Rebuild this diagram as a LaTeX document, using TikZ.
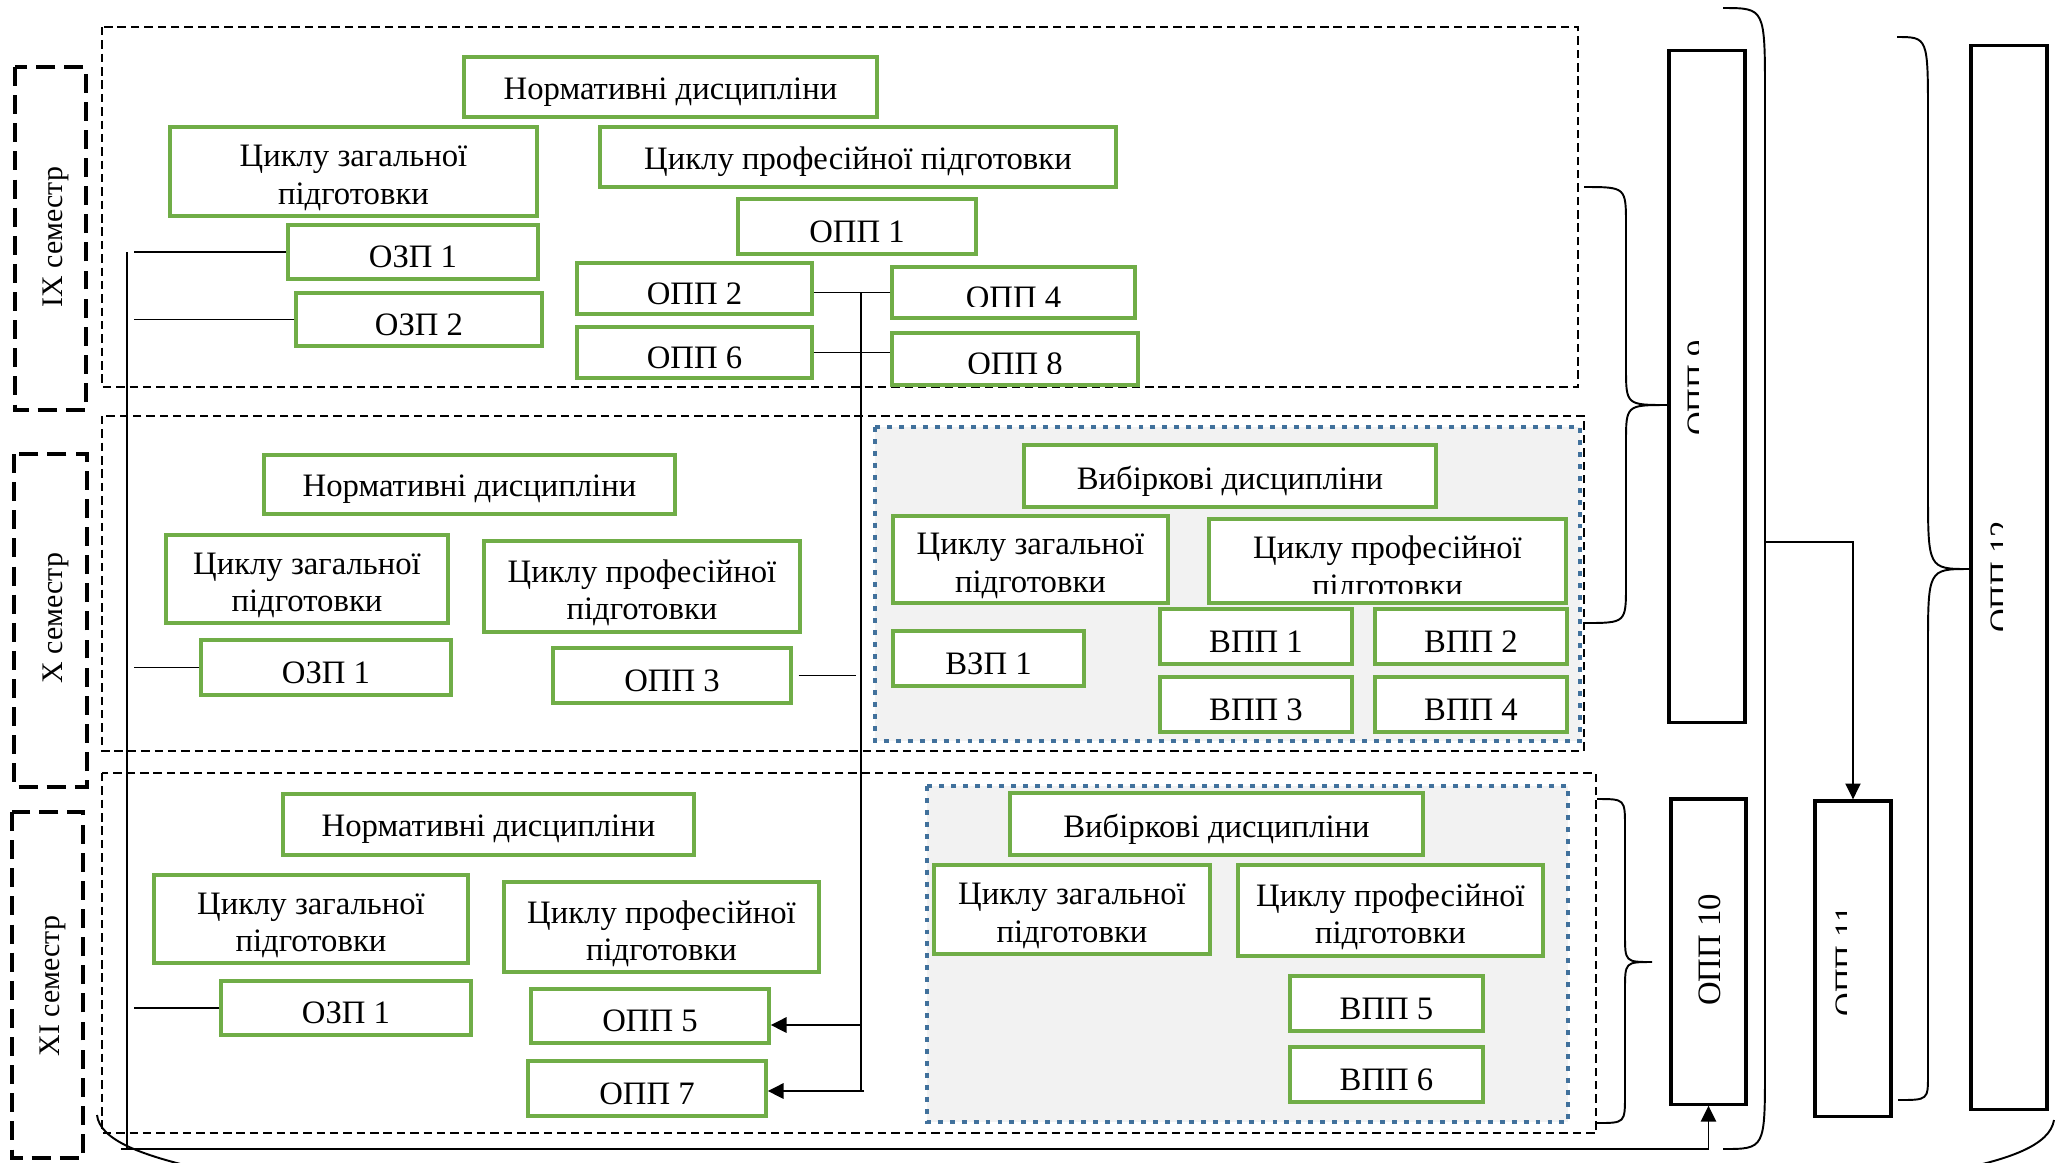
\documentclass[tikz,border=0pt]{standalone}
\usepackage{fontspec}
\setmainfont{Liberation Serif}
\usetikzlibrary{arrows.meta}
\definecolor{gr}{RGB}{112,173,71}
\definecolor{bl}{RGB}{65,113,156}
\definecolor{gy}{RGB}{242,242,242}
\begin{document}
\begin{tikzpicture}[x=0.01cm,y=-0.01cm,
  txt/.style={inner sep=0pt, font=\fontsize{9.3}{10.6}\selectfont, align=center},
  gbox/.style={draw=gr, line width=0.95pt, fill=white, inner sep=0pt},
  lbl/.style={txt, yshift=-0.05cm},
  lbltwo/.style={txt, yshift=-0.065cm},
  gt/.style={label={[lbl]center:#1}},
  gtt/.style={label={[lbltwo]center:#1}},
  bbox/.style={draw=black, line width=0.9pt, inner sep=0pt, fill=white},
  semdash/.style={draw=black, line width=0.7pt, dash pattern=on 2.4pt off 1.4pt},
  labdash/.style={draw=black, line width=1.2pt, dash pattern=on 5.4pt off 2.6pt},
  grp/.style={fill=gy, draw=bl, line width=1.2pt, dash pattern=on 1.4pt off 2pt},
  ln/.style={draw=black, line width=0.35pt},
  ln2/.style={draw=black, line width=0.5pt},
  lnthick/.style={draw=black, line width=0.8pt},
  arr/.style={-{Triangle[length=4.5pt,width=4.3pt]}},
  brace/.style={draw=black, line width=0.55pt},
  semlab/.style={inner sep=0pt, font=\fontsize{8.5}{10}\selectfont},
]
\fill[white] (0,0) rectangle (2056,1162);
\useasboundingbox (0,0) rectangle (2056,1162);

% semester frames
\draw[semdash] (102,27) rectangle (1578,387);
\draw[semdash] (102,416) rectangle (1584,751);
\draw[semdash] (102,773) rectangle (1596,1133);
\draw[labdash] (15,67) rectangle (86,410);
\draw[labdash] (14,454) rectangle (87,787);
\draw[labdash] (12,812) rectangle (83,1158);
\node[semlab, rotate=90, anchor=base] (s9) at (63,237) {IX семестр};
\node[semlab, rotate=90, anchor=base] (s10) at (63,618) {X семестр};
\node[semlab, rotate=90, anchor=base] (s11) at (60,986) {XI семестр};

% elective groups
\path[grp] (875,427) rectangle (1580,741);
\path[grp] (927,786) rectangle (1568,1122);

% IX semester boxes
\node[gbox, minimum width=4.13cm, minimum height=0.60cm, gt=Нормативні дисципліни] (norm9) at (670.5,87) {};
\node[gbox, minimum width=3.67cm, minimum height=0.89cm, gtt=Циклу загальної\\підготовки] (zag9) at (353.5,171.5) {};
\node[gbox, minimum width=5.16cm, minimum height=0.60cm, gt=Циклу професійної підготовки] (prof9) at (858,157) {};
\node[gbox, minimum width=2.38cm, minimum height=0.55cm, gt=ОПП 1] (opp1) at (857,226.5) {};
\node[gbox, minimum width=2.50cm, minimum height=0.54cm, gt=ОЗП 1] (ozp1a) at (413,252) {};
\node[gbox, minimum width=2.46cm, minimum height=0.53cm, gt=ОЗП 2] (ozp2) at (419,319.5) {};
\node[gbox, minimum width=2.35cm, minimum height=0.51cm, gt=ОПП 2] (opp2) at (694.5,288.5) {};
\node[gbox, minimum width=2.35cm, minimum height=0.51cm, gt=ОПП 6] (opp6) at (694.5,352.5) {};
\node[gbox, minimum width=2.43cm, minimum height=0.51cm] (opp4) at (1013.5,292.5) {};
\node[gbox, minimum width=2.46cm, minimum height=0.52cm] (opp8) at (1015,359) {};
\begin{scope}
\clip (893,268) rectangle (1134,306);
\node[txt, anchor=base] (t4) at (1013.5,308) {ОПП 4};
\end{scope}
\begin{scope}
\clip (893,334) rectangle (1137,373);
\node[txt, anchor=base] (t8) at (1015,374.5) {ОПП 8};
\end{scope}

% X semester boxes
\node[gbox, minimum width=4.11cm, minimum height=0.59cm, gt=Нормативні дисципліни] (norm10) at (469.5,484.5) {};
\node[gbox, minimum width=2.82cm, minimum height=0.88cm, gtt=Циклу загальної\\підготовки] (zag10) at (307,579) {};
\node[gbox, minimum width=3.16cm, minimum height=0.91cm, gtt=Циклу професійної\\підготовки] (prof10) at (642,586.5) {};
\node[gbox, minimum width=2.50cm, minimum height=0.55cm, gt=ОЗП 1] (ozp10) at (326,667.5) {};
\node[gbox, minimum width=2.38cm, minimum height=0.55cm, gt=ОПП 3] (opp3) at (672,675.5) {};
\node[gbox, minimum width=4.12cm, minimum height=0.62cm, gt=Вибіркові дисципліни] (vib10) at (1230,476) {};
\node[gbox, minimum width=2.75cm, minimum height=0.87cm, gtt=Циклу загальної\\підготовки] (vzag10) at (1030.5,559.5) {};
\node[gbox, minimum width=3.57cm, minimum height=0.84cm] (vprof10) at (1387.5,561) {};
\begin{scope}
\clip (1210,520) rectangle (1565,593);
\node[txt, anchor=base] (tvp10a) at (1387.5,558) {Циклу професійної};
\node[txt, anchor=base] (tvp10b) at (1387.5,596) {підготовки};
\end{scope}
\node[gbox, minimum width=1.91cm, minimum height=0.55cm, gt=ВЗП 1] (vzp1) at (988.5,658.5) {};
\node[gbox, minimum width=1.92cm, minimum height=0.55cm, gt=ВПП 1] (vpp1) at (1256,636.5) {};
\node[gbox, minimum width=1.92cm, minimum height=0.55cm, gt=ВПП 2] (vpp2) at (1471,636.5) {};
\node[gbox, minimum width=1.92cm, minimum height=0.55cm, gt=ВПП 3] (vpp3) at (1256,704.5) {};
\node[gbox, minimum width=1.92cm, minimum height=0.55cm, gt=ВПП 4] (vpp4) at (1471,704.5) {};

% XI semester boxes
\node[gbox, minimum width=4.11cm, minimum height=0.61cm, gt=Нормативні дисципліни] (norm11) at (488.5,824.5) {};
\node[gbox, minimum width=3.14cm, minimum height=0.88cm, gtt=Циклу загальної\\підготовки] (zag11) at (311,919) {};
\node[gbox, minimum width=3.15cm, minimum height=0.90cm, gtt=Циклу професійної\\підготовки] (prof11) at (661.5,927) {};
\node[gbox, minimum width=2.50cm, minimum height=0.54cm, gt=ОЗП 1] (ozp11) at (346,1008) {};
\node[gbox, minimum width=2.38cm, minimum height=0.54cm, gt=ОПП 5] (opp5) at (650,1016) {};
\node[gbox, minimum width=2.38cm, minimum height=0.55cm, gt=ОПП 7] (opp7) at (647,1088.5) {};
\node[gbox, minimum width=4.13cm, minimum height=0.62cm, gt=Вибіркові дисципліни] (vib11) at (1216.5,824) {};
\node[gbox, minimum width=2.76cm, minimum height=0.89cm, gtt=Циклу загальної\\підготовки] (vzag11) at (1072,909.5) {};
\node[gbox, minimum width=3.05cm, minimum height=0.91cm, gtt=Циклу професійної\\підготовки] (vprof11) at (1390.5,910.5) {};
\node[gbox, minimum width=1.93cm, minimum height=0.55cm, gt=ВПП 5] (vpp5) at (1386.5,1003.5) {};
\node[gbox, minimum width=1.93cm, minimum height=0.55cm, gt=ВПП 6] (vpp6) at (1386.5,1074.5) {};

% right-hand boxes
\node[bbox, minimum width=0.76cm, minimum height=6.71cm] (o9) at (1707,386.5) {};
\node[bbox, minimum width=0.75cm, minimum height=3.05cm] (o10) at (1708.5,951.5) {};
\node[bbox, minimum width=0.76cm, minimum height=3.15cm] (o11) at (1853,958.5) {};
\node[bbox, minimum width=0.76cm, minimum height=10.63cm] (o12) at (2009,577.5) {};
\node[txt, rotate=90, anchor=base] (t10) at (1720,950) {ОПП 10};
\begin{scope}
\clip (1672,53) rectangle (1698,720);
\node[txt, rotate=90, anchor=base] (t9) at (1709,388) {ОПП 9};
\end{scope}
\begin{scope}
\clip (1817,803) rectangle (1846,1114);
\node[txt, rotate=90, anchor=base] (t11) at (1857,961) {ОПП 11};
\end{scope}
\begin{scope}
\clip (1973,48) rectangle (2002,1107);
\node[txt, rotate=90, anchor=base] (t12) at (2012,577) {ОПП 12};
\end{scope}

% left connectors
\coordinate (Ltop) at (127,252);
\coordinate (Lbot) at (121,1149);
\coordinate (Lx) at (134,0);
\draw[ln] (Ltop) -- (127,1149);
\draw[ln] (ozp1a.west) -- (ozp1a.west -| Lx);
\draw[ln] (ozp2.west) -- (ozp2.west -| Lx);
\draw[ln] (ozp10.west) -- (ozp10.west -| Lx);
\draw[ln] (ozp11.west) -- (ozp11.west -| Lx);
\draw[ln2, arr] (Lbot) -- (o10.south |- Lbot) -- (o10.south);

% middle connectors
\coordinate (Mtop) at (861,293);
\coordinate (Mbot) at (861,1091);
\draw[ln] (Mtop) -- (Mbot);
\draw[ln] (opp4.west) -- (opp4.west -| opp2.east);
\draw[ln] (opp6.east) -- (opp6.east -| opp8.west);
\coordinate (R3) at (856,0);
\draw[ln] ([xshift=0.06cm]opp3.east) -- (opp3.east -| R3);
\coordinate (a5) at (861,1025);
\coordinate (a7) at (864,1091);
\draw[lnthick, arr] (a5) -- (a5 -| opp5.east);
\draw[lnthick, arr] (a7) -- (a7 -| opp7.east);

% braces
\draw[brace] (1584,187) .. controls (1626,187) .. (1626,225) -- (1626,367)
  .. controls (1626,405) .. (o9.west |- 0,405) .. controls (1626,405) .. (1626,443)
  -- (1626,585) .. controls (1626,623) .. (1584,623);
\draw[brace] (1597,799) .. controls (1625,799) .. (1625,827) -- (1625,934)
  .. controls (1625,962) .. (1652,962) .. controls (1625,962) .. (1625,990)
  -- (1625,1095) .. controls (1625,1123) .. (1597,1123);
\coordinate (b3m) at (1765,542);
\draw[brace] (1723,8) .. controls (1765,8) .. (1765,95) -- (1765,1067)
  .. controls (1765,1149) .. (1723,1149);
\draw[ln2, arr] (b3m) -| (o11.north);
\draw[brace] (1897,37) .. controls (1928,37) .. (1928,117) -- (1928,489)
  .. controls (1928,569) .. (o12.west |- 0,569) .. controls (1928,569) .. (1928,649)
  -- (1928,1075) .. controls (1928,1100) .. (1898,1100);
% bottom brace ends
\draw[brace] (97,1115) .. controls (100,1140) and (140,1156) .. (215,1172);
\draw[brace] (2054,1120) .. controls (2050,1145) and (2010,1160) .. (1945,1172);
\end{tikzpicture}
\end{document}
